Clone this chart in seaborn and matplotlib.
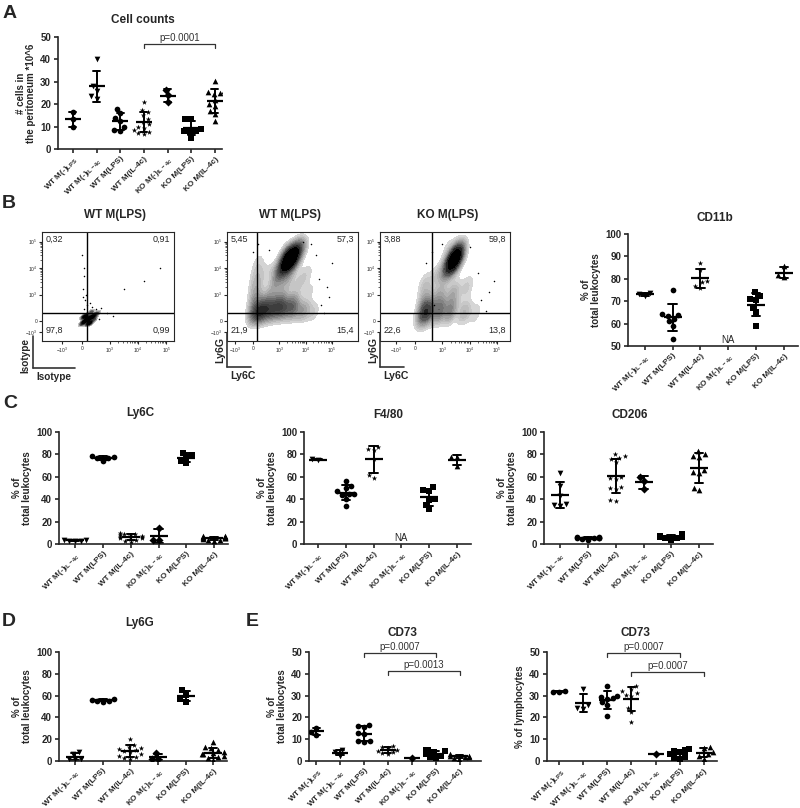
import numpy as np
import pandas as pd
import seaborn as sns
import matplotlib.pyplot as plt
from matplotlib.lines import Line2D

sns.set_style('ticks')
plt.rcParams['font.family'] = ['Liberation Sans', 'DejaVu Sans']
plt.rcParams['font.weight'] = 'bold'
plt.rcParams['mathtext.default'] = 'regular'
plt.rcParams['axes.linewidth'] = 1.2

# groups, tick labels and markers
groups7 = ['WT M(-)LPS', 'WT M(-)IL', 'WT M(LPS)', 'WT M(IL-4c)', 'KO M(-)IL', 'KO M(LPS)', 'KO M(IL-4c)']
groups6 = groups7[1:]
tick_labels = {'WT M(-)LPS': r'WT M(-)$_{LPS}$', 'WT M(-)IL': r'WT M(-)$_{IL-4c}$',
               'WT M(LPS)': 'WT M(LPS)', 'WT M(IL-4c)': 'WT M(IL-4c)',
               'KO M(-)IL': r'KO M(-)$_{IL-4c}$', 'KO M(LPS)': 'KO M(LPS)', 'KO M(IL-4c)': 'KO M(IL-4c)'}
markers = {'WT M(-)LPS': 'o', 'WT M(-)IL': 'v', 'WT M(LPS)': 'o', 'WT M(IL-4c)': '*',
           'KO M(-)IL': 'D', 'KO M(LPS)': 's', 'KO M(IL-4c)': '^'}

# values (one list per group)
cell_counts = [[16.6, 13.4, 9.9],
               [40, 28, 26, 23.5, 22.5],
               [18, 16, 14, 12.5, 10, 8.5, 8],
               [21, 17.5, 16.5, 15, 13.5, 12, 11, 10, 9.5, 8.5, 7.5, 7, 6.5],
               [26.5, 24, 21],
               [13.5, 13.5, 9, 8, 8, 7.5, 5],
               [30.5, 26, 25.5, 25, 24.5, 22, 20, 19, 17, 15.5, 12.5]]
cd11b = [[73.5, 72.5, 73],
         [75, 64.5, 64, 63.5, 62, 61, 59, 53],
         [87, 84, 79, 78.5, 77, 76],
         [],
         [74, 72.5, 71, 70.5, 67, 65, 59],
         [85.5, 81.5, 81]]
ly6c = [[4, 3.5, 3, 2.5, 3],
        [79, 78, 77, 76.5, 74.5],
        [10, 9, 8.5, 8, 7.5, 7, 6.5, 6, 5.5, 5, 4, 3, 2],
        [14, 3.5, 3.5],
        [81.5, 79.5, 77.5, 74.5, 72],
        [7.5, 7, 6.5, 6, 6, 5.5, 5, 5, 4.5, 4, 3.5, 3]]
f480 = [[75.5, 75],
        [56, 52, 50, 47, 45, 44.5, 44, 40, 34],
        [87, 85, 84, 76, 62, 59],
        [],
        [51, 48, 47, 40, 39.5, 35, 31],
        [78, 77.5, 70]]
cd206 = [[63, 52, 43, 36, 35, 34],
         [4, 5, 5.5, 6, 6.5, 5, 4.5, 5],
         [80, 79, 77, 76, 73, 60, 59, 58, 51, 49, 50, 38, 39],
         [60, 56, 49],
         [4, 5, 5.5, 6, 7, 7.5, 8.5, 6],
         [83, 80, 79, 78, 66, 64, 63, 50, 48]]
ly6g = [[8, 6.5, 2, 1.5, 1.5],
        [57, 56, 55.5, 55, 54.5],
        [20, 15, 13, 12, 11, 10, 9, 8, 6, 5, 4, 3, 2],
        [7, 2, 2],
        [65, 61, 57, 54.5],
        [17, 12.5, 12, 10, 8, 7, 6, 6, 5, 4, 3, 1]]
cd73_leuk = [[15.2, 13.5, 12],
             [5, 4, 2.5],
             [16.5, 16, 15.5, 13, 12.5, 9, 9, 8.5],
             [7, 6.5, 6, 5, 4.5, 3.5, 3, 4],
             [1.5],
             [5, 5, 4.5, 4, 3, 2.5, 2, 1.5],
             [3, 2.5, 2.5, 2, 1.5, 1, 2]]
cd73_lymph = [[32, 31.8, 31.5],
              [33, 25.5, 24.5, 24],
              [34.5, 30, 29.5, 29, 28.5, 27, 25.5, 20.5],
              [34.5, 33, 32, 31, 30.5, 30, 24.5, 22.5, 18],
              [3],
              [5.5, 5, 4.5, 4, 3, 2, 1.5, 1],
              [6.5, 6, 4, 3, 2.5, 1]]

# flow cytometry events (biexponential display units) with weights
iso_x = [0.1, 0.25, 0.4, 0.55, 0.15, 0.3, 0.0, 0.35, 0.2, 0.45, 0.05]
iso_y = [0.0, 0.1, 0.2, 0.3, 0.2, -0.05, -0.1, 0.35, -0.1, 0.1, 0.15]
iso_w = [3, 4, 3, 2, 3, 3, 2, 2, 2, 2, 2]
iso_sparse_x = [0.05, 0.1, 0.0, 0.12, 0.2, 0.35, 0.7, 0.9, 1.5, 2.2, 2.8, 0.6, 0.15, 0.08,
                0.1, 0.05, 0.3, 0.5, 1.1]
iso_sparse_y = [1.2, 1.7, 2.5, 0.8, 0.6, 0.55, 0.5, 0.3, 1.2, 1.5, 2.0, 0.1, 1.0, 2.0,
                0.45, 0.9, 0.7, 0.45, 0.2]

wt_x = [1.0, 1.2, 1.4, 1.6, 1.8, 1.3, 1.5, 0.05, 0.1, 0.1, 0.15, 0.2, 0.3, 0.7, 1.1, 1.5, 1.9,
        2.3, 0.5, 1.0, 1.5, 0.8, 1.3, 1.8, 2.2, 2.1, 0.6]
wt_y = [1.8, 2.1, 2.35, 2.6, 2.8, 2.5, 2.2, 0.3, 0.8, 1.3, 1.8, 2.3, 0.3, 0.4, 0.45, 0.45, 0.4,
        0.35, 0.7, 0.8, 0.8, 1.3, 1.5, 1.5, 1.2, 1.9, 1.9]
wt_w = [3, 5, 6, 5, 3, 3, 3, 4, 3, 2, 1.5, 1, 5, 5, 5, 4, 3, 1.5, 3, 3, 2, 2, 2, 1.5, 1, 1, 1]
wt_sparse_x = [2.6, 2.9, 2.5, 2.8, 0.0, 0.2, 2.4, 3.0, 0.6, 1.9, 2.7, 2.2]
wt_sparse_y = [0.6, 0.9, 1.6, 1.3, 2.6, 2.9, 2.5, 2.2, 2.7, 3.0, 0.3, 2.9]

ko_x = [1.2, 1.4, 1.6, 1.5, 0.3, 0.35, 0.35, 0.5, 0.9, 1.3, 1.8, 2.2, 0.9, 1.4, 1.9, 0.8, 1.2]
ko_y = [2.0, 2.3, 2.55, 2.4, 0.3, 0.8, 1.4, 0.35, 0.4, 0.4, 0.35, 0.3, 1.0, 1.1, 1.3, 1.7, 2.8]
ko_w = [3, 5, 3, 3, 3, 1.5, 1, 3, 3, 2.5, 1.5, 0.8, 1.5, 1.5, 1, 1, 0.5]
ko_sparse_x = [2.4, 2.7, 2.3, 0.4, 0.6, 2.0, 2.6, 1.0, 0.7, 2.9]
ko_sparse_y = [0.8, 1.1, 1.8, 2.2, 2.6, 2.8, 0.4, 2.9, 0.6, 1.5]

W, H = 800, 808
fig = plt.figure(figsize=(8, 8.08), dpi=100)


def box(l, t, r, b):
    return [l / W, 1 - b / H, (r - l) / W, (b - t) / H]


def ftext(x, y, s, **kw):
    fig.text(x / W, 1 - y / H, s, **kw)


def dotplot(ax, groups, values, ylim, yticks, xlim, ylabel):
    for g, v in zip(groups, values):
        if len(v):
            sns.swarmplot(x=[g] * len(v), y=v, order=groups, marker=markers[g],
                          color='black', size=4.1, ax=ax)
    df = pd.DataFrame({'group': [g for g, v in zip(groups, values) for _ in v],
                       'value': [x for v in values for x in v]})
    w_px = ax.get_position().width * W
    ms = 0.65 * w_px / (xlim[1] - xlim[0]) * 0.72
    sns.pointplot(data=df, x='group', y='value', order=groups, errorbar='sd',
                  capsize=0.3, linestyle='none', marker='_', markersize=ms,
                  markeredgewidth=1.6, color='black', err_kws={'linewidth': 1.4}, ax=ax)
    ax.set_xlim(xlim)
    ax.set_ylim(ylim)
    ax.set_yticks(yticks)
    ax.set_xticks(range(len(groups)))
    ax.set_xticklabels([tick_labels[g] for g in groups], rotation=45, ha='right',
                       rotation_mode='anchor', fontsize=5.9, fontweight='bold')
    ax.tick_params(axis='both', direction='out', length=3, width=1.2, labelsize=7, pad=2)
    ax.tick_params(axis='x', labelsize=5.9, pad=1.5)
    ax.set_xlabel('')
    ax.set_ylabel(ylabel, fontsize=7, fontweight='bold', linespacing=1.0, labelpad=3)
    sns.despine(ax=ax)


def bracket(ax, g1, g2, y, drop, text):
    ax.plot([g1, g1, g2, g2], [y - drop, y, y, y - drop], color='#333333', lw=0.9, clip_on=False)
    ax.text((g1 + g2) / 2, y + drop * 0.2, text, ha='center', va='bottom', fontsize=7,
            fontweight='normal', color='#333333')


FLOW_YLIM = (-0.74, 3.36)
FLOW_GATE_Y = 0.33


def flowplot(ax, xs, ys, ws, sx, sy, xlim, gate_x, quad, bw):
    cmap = sns.blend_palette(['#dcdcdc', '#5a5a5a', '#000000', '#000000'], as_cmap=True)
    sns.kdeplot(x=xs, y=ys, weights=ws, fill=True, cmap=cmap, levels=14, thresh=0.06,
                bw_adjust=bw, clip=(xlim, FLOW_YLIM), ax=ax)
    sns.scatterplot(x=sx, y=sy, s=1.2, color='black', linewidth=0, ax=ax)
    ax.axvline(gate_x, color='black', lw=1)
    ax.axhline(FLOW_GATE_Y, color='black', lw=1)
    ax.set_xlim(xlim)
    ax.set_ylim(FLOW_YLIM)
    ax.set_xticks([-0.7, 0, 1, 2, 3])
    ax.set_xticklabels(['$-10^3$', '0', '$10^3$', '$10^4$', '$10^5$'])
    ax.set_yticks([-0.4, 0, 1, 2, 3])
    ax.set_yticklabels(['$-10^3$', '0', '$10^3$', '$10^4$', '$10^5$'])
    minor = [k + np.log10(m) for k in range(1, 3) for m in range(2, 10)]
    ax.set_xticks(minor, minor=True)
    ax.set_yticks(minor, minor=True)
    ax.tick_params(axis='both', which='major', direction='out', length=2.5, width=0.8,
                   labelsize=3.5, pad=1)
    ax.tick_params(axis='both', which='minor', direction='out', length=1.5, width=0.5)
    for lab in ax.get_xticklabels() + ax.get_yticklabels():
        lab.set_fontweight('normal')
    for s in ax.spines.values():
        s.set_linewidth(0.8)
    ax.set_xlabel('')
    ax.set_ylabel('')
    kw = dict(transform=ax.transAxes, fontsize=6.5, fontweight='normal')
    ax.text(0.03, 0.93, quad[0], ha='left', va='center', **kw)
    ax.text(0.97, 0.93, quad[1], ha='right', va='center', **kw)
    ax.text(0.03, 0.1, quad[2], ha='left', va='center', **kw)
    ax.text(0.97, 0.1, quad[3], ha='right', va='center', **kw)


def l_label(x0, y0, ytext, xtext, xlen=42, ylen=32, ty=None, dx=6.5, fs=7.6):
    fig.add_artist(Line2D([x0 / W, x0 / W], [1 - (y0 - ylen) / H, 1 - y0 / H], color='#333333', lw=1.2))
    fig.add_artist(Line2D([x0 / W, (x0 + xlen) / W], [1 - y0 / H, 1 - y0 / H], color='#333333', lw=1.2))
    ty = y0 - ylen / 2 - 3 if ty is None else ty
    ftext(x0 - dx, ty, ytext, rotation=90, ha='center', va='center', fontsize=fs)
    ftext(x0 + 3, y0 + 9, xtext, ha='left', va='center', fontsize=fs)


x7 = (-0.63, 6.3)
x6 = (-0.58, 5.5)

# A
ax = fig.add_axes(box(58, 37, 222, 149))
dotplot(ax, groups7, cell_counts, (0, 50), range(0, 51, 10), x7,
        '# cells in\nthe peritoneum *10^6')
bracket(ax, 3, 6, 47, 2, 'p=0.0001')
ftext(143, 20, 'Cell counts', ha='center', va='center', fontsize=8.5)

# B flow plots
ax = fig.add_axes(box(42, 232, 174, 341))
flowplot(ax, iso_x, iso_y, iso_w, iso_sparse_x, iso_sparse_y, (-1.41, 3.28), 0.18,
         ['0,32', '0,91', '97,8', '0,99'], 0.7)
ax = fig.add_axes(box(227, 232, 358, 341))
flowplot(ax, wt_x, wt_y, wt_w, wt_sparse_x, wt_sparse_y, (-1.0, 4.0), 0.15,
         ['5,45', '57,3', '21,9', '15,4'], 0.55)
ax = fig.add_axes(box(380, 232, 510, 341))
flowplot(ax, ko_x, ko_y, ko_w, ko_sparse_x, ko_sparse_y, (-1.29, 3.48), 0.61,
         ['3,88', '59,8', '22,6', '13,8'], 0.55)
ftext(115, 215, 'WT M(LPS)', ha='center', va='center', fontsize=8.5)
ftext(290, 215, 'WT M(LPS)', ha='center', va='center', fontsize=8.5)
ftext(448, 215, 'KO M(LPS)', ha='center', va='center', fontsize=8.5)
l_label(33, 368, 'Isotype', 'Isotype', ty=355, dx=8, fs=7.2)
l_label(227, 367, 'Ly6G', 'Ly6C', xlen=24, ylen=34, ty=350)
l_label(380, 367, 'Ly6G', 'Ly6C', xlen=24, ylen=34, ty=350)

ax = fig.add_axes(box(628, 234, 798, 346))
dotplot(ax, groups6, cd11b, (50, 100), range(50, 101, 10), (-0.6, 5.5),
        '% of\ntotal leukocytes')
ax.text(3, 52.5, 'NA', ha='center', va='center', fontsize=7, fontweight='normal')
ftext(715, 218, 'CD11b', ha='center', va='center', fontsize=8.5)

# C
ax = fig.add_axes(box(59, 432, 228, 544))
dotplot(ax, groups6, ly6c, (0, 100), range(0, 101, 20), x6, '% of\ntotal leukocytes')
ftext(140, 413, 'Ly6C', ha='center', va='center', fontsize=8.5)

ax = fig.add_axes(box(304, 432, 471, 544))
dotplot(ax, groups6, f480, (0, 100), range(0, 101, 20), (-0.5, 5.5), '% of\ntotal leukocytes')
ax.text(3, 5, 'NA', ha='center', va='center', fontsize=7, fontweight='normal')
ftext(388, 415, 'F4/80', ha='center', va='center', fontsize=8.5)

ax = fig.add_axes(box(544, 432, 713, 544))
dotplot(ax, groups6, cd206, (0, 100), range(0, 101, 20), x6, '% of\ntotal leukocytes')
ftext(630, 415, 'CD206', ha='center', va='center', fontsize=8.5)

# D
ax = fig.add_axes(box(59, 652, 227, 761))
dotplot(ax, groups6, ly6g, (0, 100), range(0, 101, 20), x6, '% of\ntotal leukocytes')
ftext(140, 623, 'Ly6G', ha='center', va='center', fontsize=8.5)

# E
ax = fig.add_axes(box(309, 652, 481, 761))
dotplot(ax, groups7, cd73_leuk, (0, 50), range(0, 51, 10), (-0.3, 6.9), '% of\ntotal leukocytes')
bracket(ax, 2, 5, 49.5, 2, 'p=0.0007')
bracket(ax, 3, 6, 41.3, 2, 'p=0.0013')
ftext(402, 633, 'CD73', ha='center', va='center', fontsize=8.5)

ax = fig.add_axes(box(547, 652, 717, 761))
dotplot(ax, groups7, cd73_lymph, (0, 50), range(0, 51, 10), (-0.5, 6.55), '% of lymphocytes')
bracket(ax, 2, 5, 49.7, 2, 'p=0.0007')
bracket(ax, 3, 6, 41, 2, 'p=0.0007')
ftext(635, 633, 'CD73', ha='center', va='center', fontsize=8.5)

# panel letters
for letter, x, y in [('A', 10, 14), ('B', 9, 204), ('C', 10, 404), ('D', 9, 621), ('E', 252, 621)]:
    ftext(x, y, letter, ha='center', va='center', fontsize=14, fontweight='bold')

fig.savefig('out.png', dpi=100)
